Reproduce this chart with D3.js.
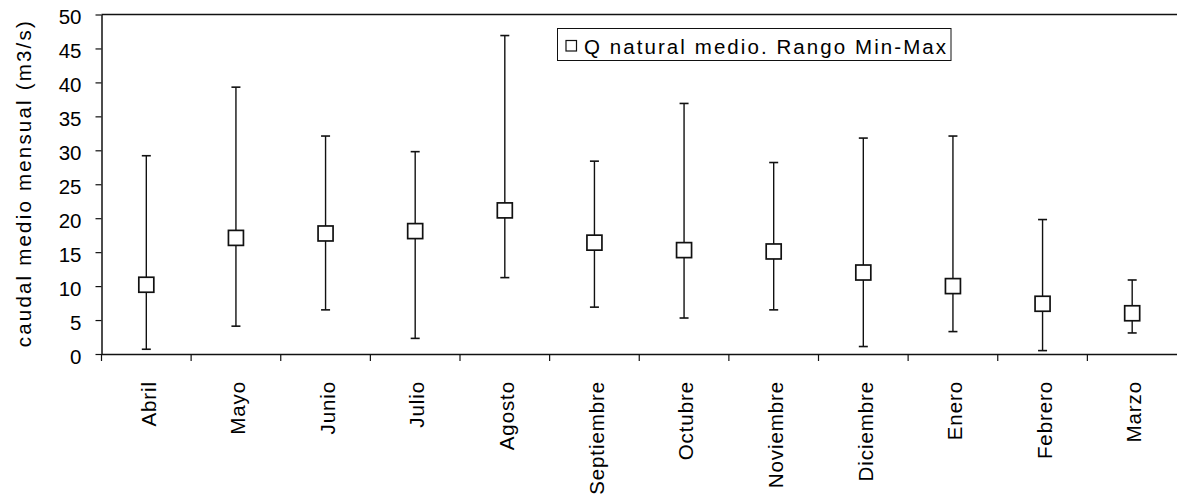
<!DOCTYPE html>
<html>
<head>
<meta charset="utf-8">
<script src="https://cdn.jsdelivr.net/npm/d3@7"></script>
<style>
  body { margin: 0; background: #fff; }
  svg text { font-family: "Liberation Sans", Arial, sans-serif; fill: #000; }
</style>
</head>
<body>
<svg class="caudal-chart"></svg>
<script>
const months = ['Abril', 'Mayo', 'Junio', 'Julio', 'Agosto', 'Septiembre',
                'Octubre', 'Noviembre', 'Diciembre', 'Enero', 'Febrero', 'Marzo'];
const qMedio = [10.2, 17.1, 17.75, 18.1, 21.15, 16.4, 15.3, 15.1, 12.0, 10.0, 7.4, 6.0];
const qMin   = [0.7, 4.1, 6.5, 2.3, 11.25, 6.9, 5.3, 6.5, 1.1, 3.3, 0.5, 3.1];
const qMax   = [29.2, 39.3, 32.1, 29.8, 46.9, 28.4, 36.9, 28.2, 31.8, 32.1, 19.8, 10.9];
const yTicks = [0, 5, 10, 15, 20, 25, 30, 35, 40, 45, 50];
const legendLabel = 'Q natural medio. Rango Min-Max';
const yTitle = 'caudal medio mensual (m3/s)';

const chartWidth = 1177,
      chartHeight = 497,
      plotLeft = 101.5,
      plotRight = 1177,
      plotTop = 14.5,
      plotBottom = 354,
      fontSize = 20.5;

const rows = months.map((m, i) => ({ month: m, mean: qMedio[i], min: qMin[i], max: qMax[i] }));

const x = d3.scaleBand()
            .domain(months)
            .range([plotLeft, plotRight])
            .padding(0);

const y = d3.scaleLinear()
            .domain([0, 50])
            .range([plotBottom, plotTop]);

const svg = d3.select('.caudal-chart')
              .attr('width', chartWidth)
              .attr('height', chartHeight);

// top border of the plot area
svg.append('line')
   .attr('x1', plotLeft)
   .attr('x2', plotRight)
   .attr('y1', plotTop)
   .attr('y2', plotTop)
   .attr('stroke', '#111')
   .attr('stroke-width', 1.5);

// y axis
const yAxis = d3.axisLeft(y)
                .tickValues(yTicks)
                .tickSize(6)
                .tickPadding(14)
                .tickSizeOuter(0);

const gy = svg.append('g')
              .attr('transform', 'translate(' + plotLeft + ',0)')
              .call(yAxis);

gy.select('.domain').attr('stroke', '#111').attr('stroke-width', 1.5);
gy.selectAll('.tick line').attr('stroke', '#111').attr('stroke-width', 1.2);
gy.selectAll('.tick text')
  .attr('font-size', fontSize)
  .attr('dy', '0.46em');

// x axis: ticks at category boundaries
const xAxis = d3.axisBottom(x)
                .tickSize(0)
                .tickFormat('');

const gx = svg.append('g')
              .attr('transform', 'translate(0,' + plotBottom + ')')
              .call(xAxis);

gx.select('.domain').attr('stroke', '#111').attr('stroke-width', 1.5);

gx.selectAll('line.bound')
  .data(months)
  .enter()
  .append('line')
  .attr('class', 'bound')
  .attr('x1', d => x(d))
  .attr('x2', d => x(d))
  .attr('y1', 0)
  .attr('y2', 7)
  .attr('stroke', '#111')
  .attr('stroke-width', 1.2);

gx.selectAll('text.month')
  .data(months)
  .enter()
  .append('text')
  .attr('class', 'month')
  .attr('transform', d => 'translate(' + (x(d) + x.bandwidth() / 2) + ',' + 27 + ') rotate(-90)')
  .attr('text-anchor', 'end')
  .attr('dy', '0.45em')
  .attr('font-size', fontSize)
  .attr('letter-spacing', 0.9)
  .text(d => d);

// y title
svg.append('text')
   .attr('transform', 'translate(31,' + ((plotTop + plotBottom) / 2) + ') rotate(-90)')
   .attr('text-anchor', 'middle')
   .attr('font-size', fontSize)
   .attr('textLength', 326)
   .attr('lengthAdjust', 'spacing')
   .text(yTitle);

// error bars
const cx = d => x(d.month) + x.bandwidth() / 2;
const capW = 4.5;

svg.selectAll('line.range')
   .data(rows)
   .enter()
   .append('line')
   .attr('class', 'range')
   .attr('x1', cx)
   .attr('x2', cx)
   .attr('y1', d => y(d.min))
   .attr('y2', d => y(d.max))
   .attr('stroke', '#111')
   .attr('stroke-width', 1.4);

svg.selectAll('line.capmax')
   .data(rows)
   .enter()
   .append('line')
   .attr('class', 'capmax')
   .attr('x1', d => cx(d) - capW)
   .attr('x2', d => cx(d) + capW)
   .attr('y1', d => y(d.max))
   .attr('y2', d => y(d.max))
   .attr('stroke', '#111')
   .attr('stroke-width', 1.6);

svg.selectAll('line.capmin')
   .data(rows)
   .enter()
   .append('line')
   .attr('class', 'capmin')
   .attr('x1', d => cx(d) - capW)
   .attr('x2', d => cx(d) + capW)
   .attr('y1', d => y(d.min))
   .attr('y2', d => y(d.min))
   .attr('stroke', '#111')
   .attr('stroke-width', 1.6);

// mean markers
const mk = 15;

svg.selectAll('rect.mean')
   .data(rows)
   .enter()
   .append('rect')
   .attr('class', 'mean')
   .attr('x', d => cx(d) - mk / 2)
   .attr('y', d => y(d.mean) - mk / 2)
   .attr('width', mk)
   .attr('height', mk)
   .attr('fill', '#fff')
   .attr('stroke', '#111')
   .attr('stroke-width', 1.7);

// legend
const legend = svg.append('g');

legend.append('rect')
      .attr('x', 557.5)
      .attr('y', 28.5)
      .attr('width', 393.5)
      .attr('height', 32)
      .attr('fill', '#fff')
      .attr('stroke', '#111')
      .attr('stroke-width', 1);

legend.append('rect')
      .attr('x', 566)
      .attr('y', 40.5)
      .attr('width', 10.5)
      .attr('height', 10.5)
      .attr('fill', '#fff')
      .attr('stroke', '#111')
      .attr('stroke-width', 1.2);

legend.append('text')
      .attr('x', 584)
      .attr('y', 54)
      .attr('font-size', fontSize)
      .attr('textLength', 362)
      .attr('lengthAdjust', 'spacing')
      .text(legendLabel);
</script>
</body>
</html>
